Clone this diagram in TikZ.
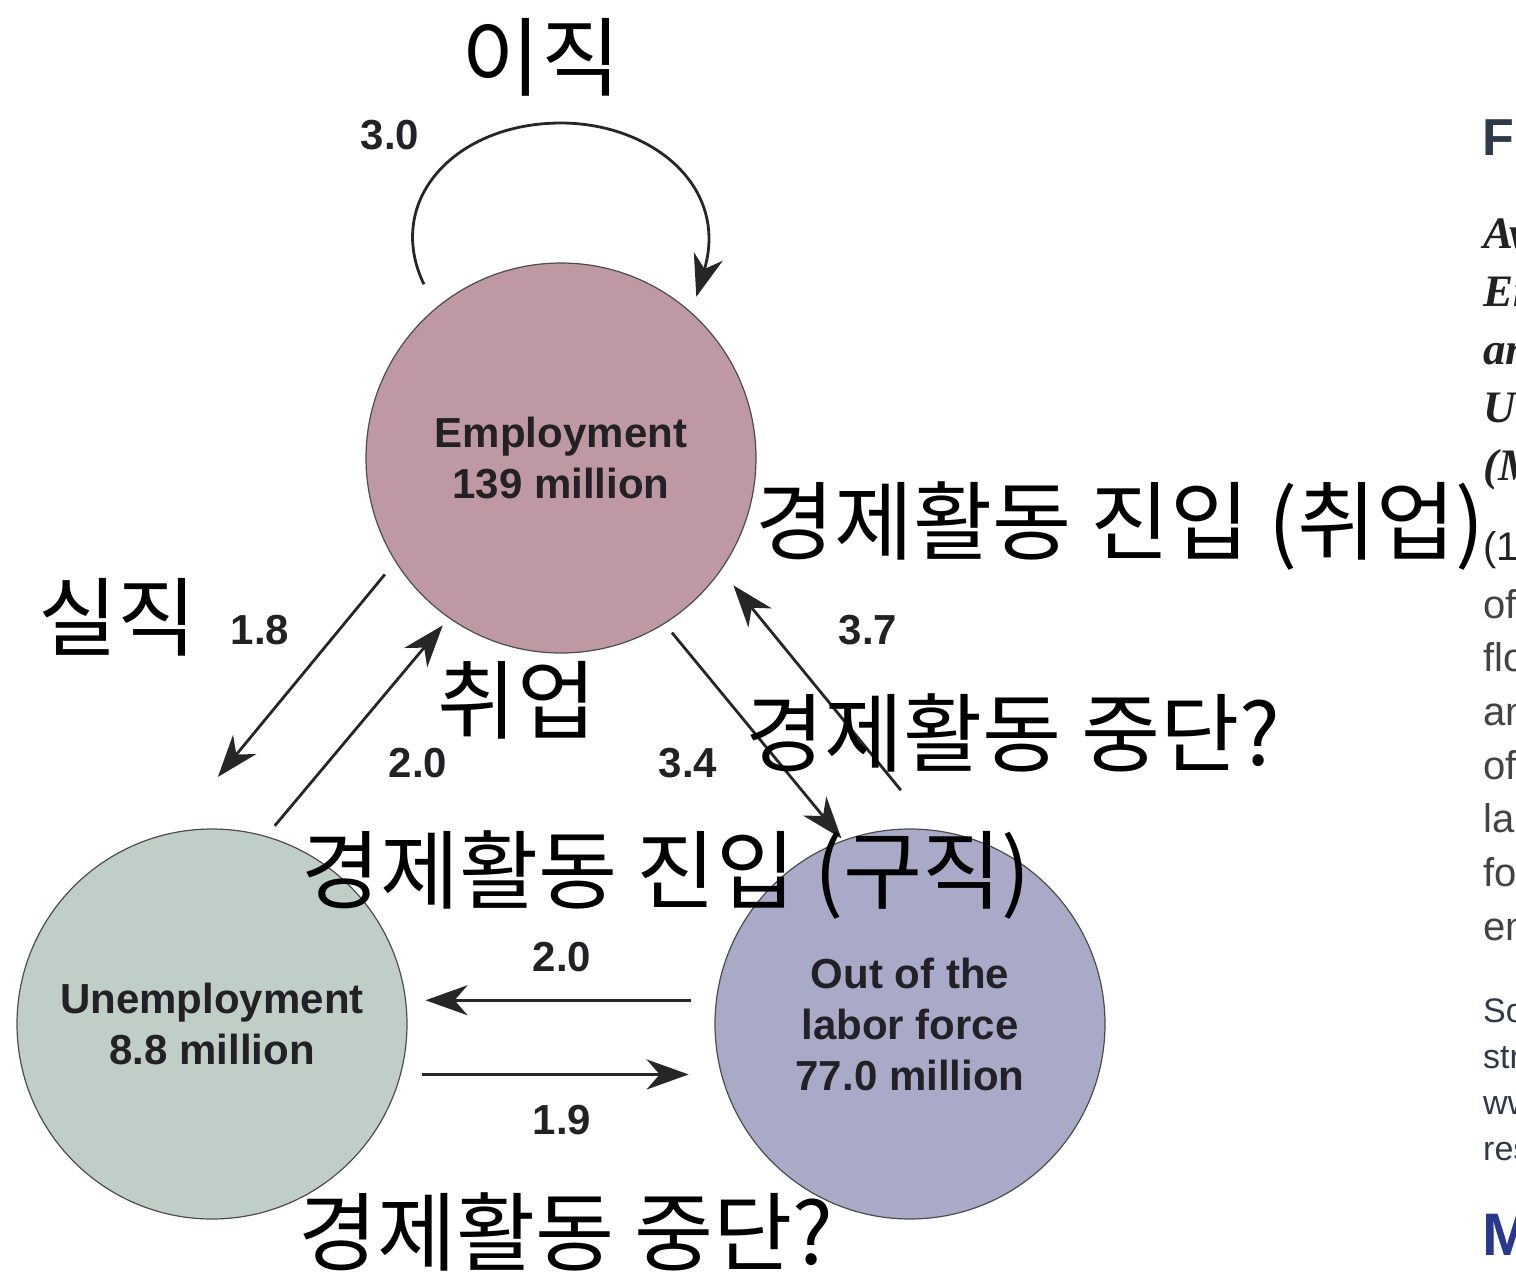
\documentclass[tikz,border=0pt]{standalone}
\usepackage{fontspec}
\setmainfont{Liberation Sans}
\newfontfamily\krfont{Noto Sans CJK KR}
\newfontfamily\capfont{Liberation Serif}
\usetikzlibrary{arrows.meta,positioning}

\definecolor{empfill}{RGB}{190,153,163}
\definecolor{unempfill}{RGB}{192,206,200}
\definecolor{olffill}{RGB}{169,170,200}
\definecolor{ink}{RGB}{35,33,38}
\definecolor{slate}{RGB}{46,58,76}
\definecolor{econblue}{RGB}{40,56,140}

\tikzset{
  pool/.style={circle,draw=black!70,line width=1.2pt,minimum size=390pt,
    inner sep=0pt,outer sep=0pt,align=center,text=ink,
    font=\fontsize{42}{51}\selectfont\bfseries},
  rate/.style={text=ink,inner sep=0pt,font=\fontsize{42}{42}\selectfont\bfseries},
  flow/.style={-{Stealth[length=42pt,width=30pt,inset=13pt]},line width=2.8pt,draw=black!85},
  kr/.style={inner sep=0pt,font=\krfont\fontsize{86}{90}\selectfont},
  col/.style={anchor=base west,inner sep=0pt}
}

\begin{document}
\begin{tikzpicture}[x=1pt,y=-1pt,on grid]
\useasboundingbox (0,0) rectangle (1516,1283);
\clip (0,0) rectangle (1516,1283);

% the three pools
\node[pool,fill=empfill] (emp) at (561,458) {Employment\\139 million};
\node[pool,fill=unempfill] (unemp) [below left=566pt and 349pt of emp] {Unemployment\\8.8 million};
\node[pool,fill=olffill] (olf) [right=698pt of unemp] {Out of the\\labor force\\77.0 million};

% flows between them
\draw[flow,shorten <=27pt,shorten >=17pt] (emp.130)
  .. controls +(-52,-108) and +(-106,0) .. ([yshift=140pt]emp.north)
  .. controls +(89,0) and +(38,-128) .. (emp.48);
\draw[flow,shorten <=17pt,shorten >=73pt] (emp.212) -- (unemp.102);
\draw[flow,shorten <=14pt,shorten >=10pt] (unemp.74) -- (emp.235);
\draw[flow,shorten <=12pt,shorten >=3pt] (emp.302) -- (olf.110);
\draw[flow,shorten <=52pt,shorten >=20pt] (olf.83) -- (emp.325);
\draw[flow,shorten <=25pt,shorten >=20pt] (olf.173) -- (unemp.7);
\draw[flow,shorten <=22pt,shorten >=33pt] (unemp.345) -- (olf.195);

% monthly rates
\node[rate] (r30) at (390,135) {3.0};
\node[rate] (r18) at (260,630) {1.8};
\node[rate] (r20a) at (418,763) {2.0};
\node[rate] (r34) at (688,763) {3.4};
\node[rate] (r37) at (868,630) {3.7};
\node[rate] (r20b) at (562,957) {2.0};
\node[rate] (r19) at (562,1120) {1.9};

% korean notes
\node[kr] (kjob) at (541,57) {이직};
\node[kr] (kloss) at (118,617) {실직};
\node[kr] (khire) at (517,700) {취업};
\node[kr] (kentry) at (1120,526) {경제활동 진입 (취업)};
\node[kr] (kexit) at (1013,733) {경제활동 중단?};
\node[kr] (ksearch) at (666,875) {경제활동 진입 (구직)};
\node[kr] (kexitb) at (566,1232) {경제활동 중단?};

% caption column
\node[col,text=slate,font=\fontsize{52}{52}\selectfont\bfseries] (fig) at (1482,155) {FIGURE 6-1};
\foreach \txt [count=\i] in {Average Monthly Flows,Employment and,and Nonparticipation,United States,(Millions)}
  \node[col,text=ink,font=\capfont\fontsize{45}{45}\selectfont\bfseries\itshape] (cap\i) at (1483,{248+58*(\i-1)}) {\txt};
\node[col,text=ink,font=\fontsize{40}{40}\selectfont] (note0) at (1483,560) {(1) The flows};
\foreach \txt [count=\i] in {of workers,flows,and,of,labor,force,employment}
  \node[col,text=ink!85,font=\fontsize{40}{40}\selectfont] (note\i) at (1483,{618+53.7*(\i-1)}) {\txt};
\foreach \txt [count=\i] in {Source:,structed,www.,research}
  \node[col,text=slate,font=\fontsize{34}{34}\selectfont] (src\i) at (1483,{1022+46*(\i-1)}) {\txt};
\node[col,text=econblue,font=\fontsize{60}{60}\selectfont\bfseries] (logo) at (1482,1255) {MyEconLab};
\end{tikzpicture}
\end{document}
